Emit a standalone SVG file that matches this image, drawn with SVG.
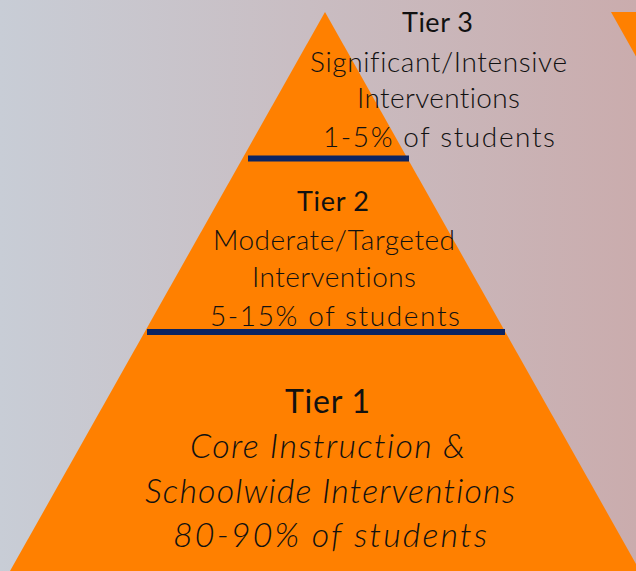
<svg xmlns="http://www.w3.org/2000/svg" width="636" height="571" viewBox="0 0 636 571">
  <defs>
    <linearGradient id="bg" x1="0" y1="0" x2="1" y2="0">
      <stop offset="0" stop-color="#C8CDD6"/>
      <stop offset="1" stop-color="#CAACAD"/>
    </linearGradient>
  </defs>
  <style>
    .shape { fill: #FF8000; }
    .bar { stroke: #0B2462; stroke-width: 6; fill: none; }
    text { font-family: "Lato", "Open Sans", "Liberation Sans", sans-serif; fill: #111111; text-anchor: middle; font-variant-ligatures: none; }
    .title { font-weight: 400; }
    .body { font-weight: 300; font-size: 28px; }
    .s27 { font-size: 27px; }
    .s32 { font-size: 32px; }
    .s34 { font-size: 34px; }
    .it { font-style: italic; }
  </style>
  <rect x="0" y="0" width="636" height="571" fill="url(#bg)"/>
  <polygon class="shape" points="325,12 640,571 10,571"/>
  <polygon class="shape" points="611,12 640,12 640,63.5"/>
  <g id="connectors">
    <line class="bar" x1="248" y1="158.5" x2="409" y2="158.5"/>
    <line class="bar" x1="147" y1="332" x2="505" y2="332"/>
  </g>
  <g id="tier3">
    <text class="title s27" x="437.5" y="32" textLength="71" lengthAdjust="spacing">Tier 3</text>
    <text class="body" x="438.5" y="72" textLength="257" lengthAdjust="spacing">Significant/Intensive</text>
    <text class="body" x="438.5" y="108" textLength="163" lengthAdjust="spacing">Interventions</text>
    <text class="body" x="439" y="146.5" textLength="232" lengthAdjust="spacing">1-5% of students</text>
  </g>
  <g id="tier2">
    <text class="title s27" x="333" y="211" textLength="72" lengthAdjust="spacing">Tier 2</text>
    <text class="body" x="334" y="250" textLength="242" lengthAdjust="spacing">Moderate/Targeted</text>
    <text class="body" x="334" y="287" textLength="164" lengthAdjust="spacing">Interventions</text>
    <text class="body" x="335" y="325.5" textLength="250" lengthAdjust="spacing">5-15% of students</text>
  </g>
  <g id="tier1">
    <text class="title s32" x="327.5" y="413" textLength="85" lengthAdjust="spacing">Tier 1</text>
    <text class="body s34 it" x="327.5" y="458" textLength="275" lengthAdjust="spacing">Core Instruction &amp;</text>
    <text class="body s34 it" x="330" y="503" textLength="370" lengthAdjust="spacing">Schoolwide Interventions</text>
    <text class="body s34 it" x="330" y="546.5" textLength="314" lengthAdjust="spacing">80-90% of students</text>
  </g>
</svg>
